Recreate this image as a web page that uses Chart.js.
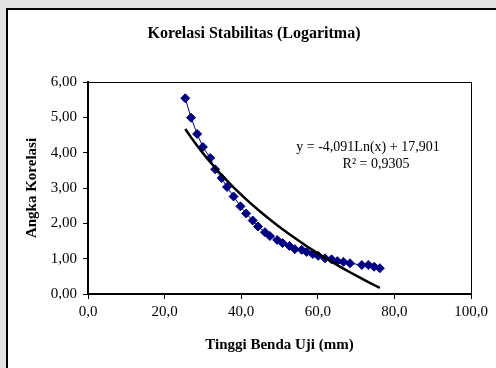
<!DOCTYPE html>
<html>
<head>
<meta charset="utf-8">
<script src="https://cdn.jsdelivr.net/npm/chart.js@4.4.1/dist/chart.umd.min.js"></script>
<style>
  html, body { margin: 0; padding: 0; }
  body { width: 496px; height: 368px; overflow: hidden; background: #e2e2e2; position: relative; }
  #frame { position: absolute; left: 6px; top: 8px; right: -10px; bottom: -10px;
           background: #fff; border-left: 2px solid #000; border-top: 2px solid #000; }
  #c { position: absolute; left: 0; top: 0; }
</style>
</head>
<body>
<div id="frame"></div>
<canvas id="c" width="496" height="368"></canvas>
<script>
// Specimen height (mm) and correlation number
const heights = [25.4, 26.9, 28.5, 30.0, 31.9, 33.2, 34.9, 36.3, 38.0, 39.8, 41.3, 43.0,
                 44.4, 46.2, 47.5, 49.4, 50.8, 52.6, 54.0, 55.8, 57.1, 58.7, 60.1, 61.9,
                 63.6, 65.1, 66.7, 68.4, 71.5, 73.2, 74.7, 76.2];
const correlation = [5.54, 4.99, 4.53, 4.16, 3.85, 3.53, 3.28, 3.03, 2.76, 2.48, 2.28, 2.08,
                     1.91, 1.75, 1.64, 1.53, 1.44, 1.36, 1.27, 1.25, 1.19, 1.13, 1.08, 1.01,
                     0.98, 0.93, 0.91, 0.87, 0.82, 0.82, 0.77, 0.73];

// Logarithmic trendline y = a*Ln(x) + b
const trendSlope = -4.091;
const trendIntercept = 17.901;
const rSquared = 0.9305;

const xTicks = [0, 20, 40, 60, 80, 100];
const yTicks = [0, 1, 2, 3, 4, 5, 6];

const fmt = (v, d) => v.toFixed(d).replace('.', ',');
const points = heights.map((x, i) => ({ x, y: correlation[i] }));
const trend = heights.map(x => ({ x, y: trendSlope * Math.log(x) + trendIntercept }));

const eqLines = [
  'y = ' + fmt(trendSlope, 3) + 'Ln(x) + ' + fmt(trendIntercept, 3),
  'R\u00B2 = ' + fmt(rSquared, 4)
];

const serif = "'Liberation Serif', 'Times New Roman', serif";

const equationLabel = {
  id: 'equationLabel',
  afterDatasetsDraw(chart) {
    const { ctx, scales: { x, y } } = chart;
    ctx.save();
    ctx.fillStyle = '#000';
    ctx.font = '14px ' + serif;
    ctx.textAlign = 'center';
    ctx.textBaseline = 'middle';
    ctx.fillText(eqLines[0], x.getPixelForValue(73.1), y.getPixelForValue(4.16));
    ctx.fillText(eqLines[1], x.getPixelForValue(75.2), y.getPixelForValue(3.66));
    ctx.restore();
  }
};

new Chart(document.getElementById('c'), {
  type: 'scatter',
  data: {
    datasets: [
      {
        label: 'Log',
        data: trend,
        showLine: true,
        borderColor: '#000',
        borderWidth: 2.5,
        pointRadius: 0,
        tension: 0,
        order: 0
      },
      {
        label: 'Angka Korelasi',
        data: points,
        showLine: true,
        borderColor: '#000080',
        borderWidth: 1,
        backgroundColor: '#000080',
        pointStyle: 'rectRot',
        pointRadius: 4.5,
        pointBorderWidth: 1,
        pointBorderColor: '#000080',
        pointBackgroundColor: '#000080',
        order: 1
      }
    ]
  },
  options: {
    responsive: false,
    animation: false,
    devicePixelRatio: 1,
    layout: { padding: { left: 12, right: 0, top: 0, bottom: 0 } },
    plugins: {
      legend: { display: false },
      tooltip: { enabled: false },
      title: {
        display: true,
        text: 'Korelasi Stabilitas (Logaritma)',
        color: '#000',
        font: { family: serif, size: 16, weight: 'bold' },
        padding: { top: 24, bottom: 38.8 }
      }
    },
    scales: {
      x: {
        type: 'linear',
        position: 'bottom',
        min: 0, max: 100,
        afterBuildTicks: s => { s.ticks = xTicks.map(v => ({ value: v })); },
        afterFit: s => { s.height = 74; },
        ticks: {
          color: '#000',
          padding: 4,
          font: { family: serif, size: 15 },
          callback: v => fmt(v, 1)
        },
        grid: { drawOnChartArea: false, drawTicks: true, tickLength: 5, color: '#000', lineWidth: 1 },
        border: { display: true, color: '#000', width: 2 },
        title: {
          display: true,
          text: 'Tinggi Benda Uji (mm)',
          color: '#000',
          font: { family: serif, size: 15, weight: 'bold' },
          padding: { top: 0, bottom: 14 }
        }
      },
      y: {
        type: 'linear',
        position: 'left',
        min: 0, max: 6,
        afterBuildTicks: s => { s.ticks = yTicks.map(v => ({ value: v })); },
        afterFit: s => { s.width = 76; },
        ticks: {
          color: '#000',
          padding: 6,
          font: { family: serif, size: 15 },
          callback: v => fmt(v, 2)
        },
        grid: { drawOnChartArea: false, drawTicks: true, tickLength: 5, color: '#000', lineWidth: 1 },
        border: { display: true, color: '#000', width: 2 },
        title: {
          display: true,
          text: 'Angka Korelasi',
          color: '#000',
          font: { family: serif, size: 15, weight: 'bold' },
          padding: { top: 11, bottom: 0 }
        }
      },
      x2: {
        type: 'linear',
        position: 'top',
        min: 0, max: 100,
        afterFit: s => { s.height = 0; },
        ticks: { display: false },
        grid: { drawOnChartArea: false, drawTicks: false },
        border: { display: true, color: '#000', width: 1 }
      },
      y2: {
        type: 'linear',
        position: 'right',
        min: 0, max: 6,
        afterFit: s => { s.width = 25; },
        ticks: { display: false },
        grid: { drawOnChartArea: false, drawTicks: false },
        border: { display: true, color: '#000', width: 1 }
      }
    }
  },
  plugins: [equationLabel]
});
</script>
</body>
</html>
